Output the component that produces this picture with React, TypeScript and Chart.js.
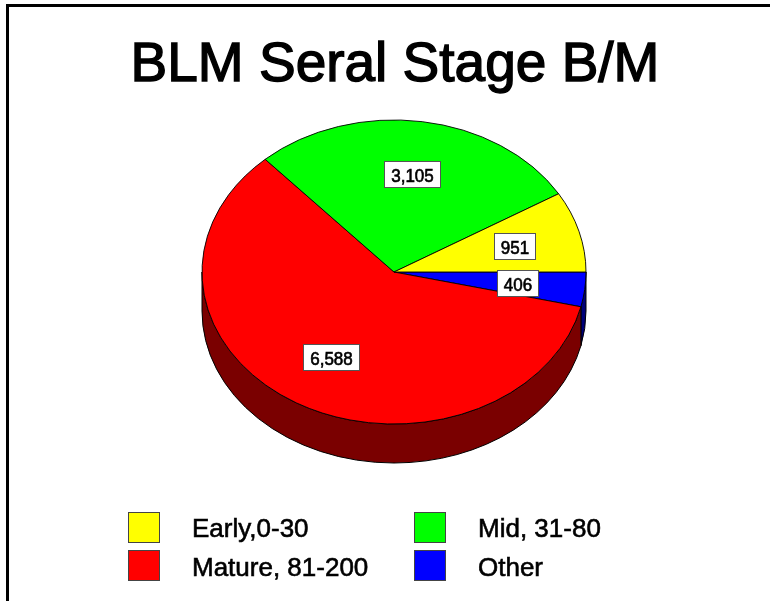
import React, { useEffect, useRef } from 'react';
import { Chart, registerables } from 'chart.js';

Chart.register(...registerables);

const TITLE = 'BLM Seral Stage B/M';
// Slices in drawing order, clockwise from 3 o'clock
const categories = ['Other', 'Mature, 81-200', 'Mid, 31-80', 'Early,0-30'];
const values = [406, 6588, 3105, 951];
const colors = ['#0000ff', '#ff0000', '#00ff00', '#ffff00'];
const sideColors = ['#00007a', '#7a0000', '#007a00', '#7a7a00'];
// Legend order (indices into categories): Early, Mid, Mature, Other
const legendOrder = [3, 2, 1, 0];

const FONT = '"Liberation Sans", Arial, Helvetica, sans-serif';
const RX = 192;
const RY = 152;
const DEPTH = 39;
const LABEL_R = 0.65;

const pie3d = {
  id: 'pie3d',
  beforeDatasetsDraw(chart: any) {
    const arcs = chart.getDatasetMeta(0).data as any[];
    chart.$pieSaved = false;
    if (!arcs.length) return;
    const cx = arcs[0].x;
    const cy = arcs[0].y;
    const rx = arcs[0].outerRadius;
    const ry = (rx * RY) / RX;
    const ctx: CanvasRenderingContext2D = chart.ctx;
    ctx.save();
    ctx.lineWidth = 1;
    ctx.strokeStyle = '#000';
    arcs.forEach((a: any, i: number) => {
      const s = Math.max(a.startAngle, 0);
      const e = Math.min(a.endAngle, Math.PI);
      if (e <= s) return;
      ctx.beginPath();
      ctx.ellipse(cx, cy, rx, ry, 0, s, e, false);
      ctx.lineTo(cx + rx * Math.cos(e), cy + ry * Math.sin(e) + DEPTH);
      ctx.ellipse(cx, cy + DEPTH, rx, ry, 0, e, s, true);
      ctx.closePath();
      ctx.fillStyle = sideColors[i];
      ctx.fill();
      ctx.stroke();
    });
    ctx.restore();
    ctx.save();
    ctx.translate(0, cy);
    ctx.scale(1, ry / rx);
    ctx.translate(0, -cy);
    chart.$pieSaved = true;
  },
  afterDatasetsDraw(chart: any) {
    const ctx: CanvasRenderingContext2D = chart.ctx;
    if (chart.$pieSaved) ctx.restore();
    const arcs = chart.getDatasetMeta(0).data as any[];
    if (!arcs.length) return;
    const cx = arcs[0].x;
    const cy = arcs[0].y;
    const rx = arcs[0].outerRadius;
    const ry = (rx * RY) / RX;
    ctx.save();
    ctx.font = `17px ${FONT}`;
    ctx.textAlign = 'center';
    ctx.textBaseline = 'alphabetic';
    arcs.forEach((a: any, i: number) => {
      const mid = (a.startAngle + a.endAngle) / 2;
      const x = cx + LABEL_R * rx * Math.cos(mid);
      const y = cy + LABEL_R * ry * Math.sin(mid);
      const text = values[i].toLocaleString('en-US');
      const w = Math.round(ctx.measureText(text).width + 13);
      const h = 26;
      const bx = Math.round(x - w / 2) + 0.5;
      const by = Math.round(y - h / 2) + 0.5;
      ctx.lineWidth = 1;
      ctx.fillStyle = '#fff';
      ctx.fillRect(bx, by, w, h);
      ctx.strokeStyle = '#555';
      ctx.strokeRect(bx, by, w, h);
      ctx.save();
      ctx.translate(bx + w / 2, by + h / 2 + 7);
      ctx.scale(1, 1.08);
      ctx.fillStyle = '#000';
      ctx.strokeStyle = '#000';
      ctx.lineWidth = 0.6;
      ctx.fillText(text, 0, 0);
      ctx.strokeText(text, 0, 0);
      ctx.restore();
    });
    ctx.restore();
  },
};

export default function App() {
  const ref = useRef<HTMLCanvasElement | null>(null);

  useEffect(() => {
    if (!ref.current) return;
    const chart = new Chart(ref.current, {
      type: 'pie',
      data: {
        labels: categories,
        datasets: [
          {
            data: values,
            backgroundColor: colors,
            borderColor: '#000',
            borderWidth: 1,
            clip: false,
          } as any,
        ],
      },
      options: {
        responsive: false,
        maintainAspectRatio: false,
        animation: false,
        rotation: 90,
        radius: RX,
        layout: { padding: { left: 202, right: 184, top: 80, bottom: 137 } },
        plugins: {
          legend: { display: false },
          tooltip: { enabled: false },
          title: { display: false },
        },
      } as any,
      plugins: [pie3d],
    });
    return () => chart.destroy();
  }, []);

  const legendPos = [
    { box: [128, 512], text: [192, 515] },
    { box: [414, 512], text: [478, 515] },
    { box: [128, 550], text: [192, 554] },
    { box: [414, 550], text: [478, 554] },
  ];

  return (
    <div
      style={{
        position: 'absolute',
        left: 0,
        top: 0,
        width: 770,
        height: 601,
        background: '#fff',
        overflow: 'hidden',
        fontFamily: FONT,
      }}
    >
      <canvas ref={ref} width={770} height={601} style={{ position: 'absolute', left: 0, top: 0 }} />
      <div style={{ position: 'absolute', left: 6, top: 4, width: 764, height: 3, background: '#000' }} />
      <div style={{ position: 'absolute', left: 6, top: 4, width: 3, height: 597, background: '#000' }} />
      <div
        style={{
          position: 'absolute',
          left: 0,
          width: 790,
          top: 35,
          fontSize: 55,
          lineHeight: '55px',
          textAlign: 'center',
          color: '#000',
          whiteSpace: 'nowrap',
          WebkitTextStroke: '1.4px #000',
        }}
      >
        {TITLE}
      </div>
      {legendOrder.map((idx, k) => (
        <React.Fragment key={k}>
          <div
            style={{
              position: 'absolute',
              left: legendPos[k].box[0],
              top: legendPos[k].box[1],
              width: 30,
              height: 29,
              background: colors[idx],
              border: '1px solid #444',
            }}
          />
          <div
            style={{
              position: 'absolute',
              left: legendPos[k].text[0],
              top: legendPos[k].text[1],
              fontSize: 26,
              lineHeight: '26px',
              color: '#000',
              whiteSpace: 'nowrap',
              WebkitTextStroke: '0.6px #000',
            }}
          >
            {categories[idx]}
          </div>
        </React.Fragment>
      ))}
    </div>
  );
}
